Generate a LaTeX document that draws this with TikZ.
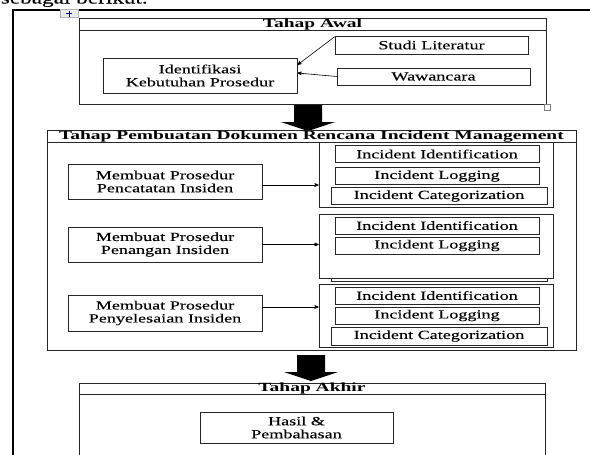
\documentclass[tikz,border=0pt]{standalone}
\usepackage{fontspec}
\setmainfont{Liberation Serif}[FakeStretch=1.45,FakeBold=0.1]
\newfontfamily\titlefont{Liberation Serif}[FakeStretch=1.56]
\usetikzlibrary{arrows}

\begin{document}
\begin{tikzpicture}[>=stealth',x=1pt,y=-1pt,semithick]
  \tikzstyle{every node}=[inner sep=0pt,align=center,font=\fontsize{12.5}{13}\selectfont]
  \tikzstyle{box}=[draw=black!85,minimum height=17pt]
  \tikzstyle{proc}=[box,minimum width=194pt,minimum height=35pt]
  \tikzstyle{item}=[box,minimum width=204pt]
  \tikzstyle{cat}=[box,minimum width=216pt]
  \tikzstyle{group}=[draw=black!85,fill=white,minimum width=234pt]
  \tikzstyle{frame}=[draw=black!85]
  \tikzstyle{title}=[font=\titlefont\bfseries\fontsize{12.5}{13}\selectfont]

  \useasboundingbox (0,0) rectangle (590,455);

  % page text and table frame
  \node[font=\fontsize{16}{18}\selectfont,anchor=base east] (intro) at (148,3.5) {sebagai berikut.};
  \draw[line width=2pt] (13,470) -- (13,10) -- (600,10);
  \node[draw=black!30,fill=black!8,minimum width=18pt,minimum height=8pt] (handle) at (69,13.5) {};
  \draw[blue!70!black,thin] ([xshift=-3pt]handle.center) -- ([xshift=3pt]handle.center)
                            ([yshift=-3pt]handle.center) -- ([yshift=3pt]handle.center);

  % block arrows between the stages
  \foreach \p in {(308,105),(311,355)}
    \fill \p ++(-14,0) -- ++(28,0) -- ++(0,17) -- ++(13,0) -- ++(-27,9) -- ++(-27,-9) -- ++(13,0) -- cycle;

  % Tahap Awal
  \node[frame,minimum width=467pt,minimum height=86pt] (Awal) at (312.5,61) {};
  \draw[black!85] ([yshift=-13pt]Awal.north west) -- ([yshift=-13pt]Awal.north east);
  \node[title] (AwalT) at ([yshift=-6.5pt]Awal.north) {Tahap Awal};
  \node[draw=black!50,fill=white,minimum size=6pt] (grip) at (547.5,107.5) {};

  \node[proc]                   (Idf)   at (200,75.5)   {Identifikasi\\Kebutuhan Prosedur};
  \node[box,minimum width=193pt,minimum height=18pt] (Studi) at (431.5,45) {Studi Literatur};
  \node[box,minimum width=193pt] (Wawan) at (433.5,76.5) {Wawancara};

  \draw[->] ([yshift=-1pt]Studi.north west) -- ([yshift=10.5pt]Idf.east);
  \draw[->] (Wawan.west) -- ([yshift=2.5pt]Idf.east);

  % Tahap Pembuatan Dokumen
  \node[frame,minimum width=529pt,minimum height=220pt] (Buat) at (311.5,240) {};
  \draw[black!85] ([yshift=-13pt]Buat.north west) -- ([yshift=-13pt]Buat.north east);
  \node[title] (BuatT) at ([yshift=-6.5pt]Buat.north) {Tahap Pembuatan Dokumen Rencana Incident Management};

  \node[proc] (Catat)  at (165,181.5) {Membuat Prosedur\\Pencatatan Insiden};
  \node[proc] (Tangan) at (165,244.5) {Membuat Prosedur\\Penangan Insiden};
  \node[proc,minimum height=36pt] (Selesai) at (165,313) {Membuat Prosedur\\Penyelesaian Insiden};

  \node[group,minimum height=65pt] (G1) at (436,174.5) {};
  \node[item] (G1id)  at (437,154) {Incident Identification};
  \node[item] (G1log) at (437,176) {Incident Logging};
  \node[cat]  (G1cat) at (439,196) {Incident Categorization};

  \node[cat,minimum height=16pt] (G2cat) at (439,273) {};
  \node[group,minimum height=64pt] (G2) at (436,246) {};
  \node[item] (G2id)  at (437,225.5) {Incident Identification};
  \node[item] (G2log) at (437,245.5) {Incident Logging};

  \node[group,minimum height=63pt] (G3) at (436,315.5) {};
  \node[item] (G3id)  at (437,295.5) {Incident Identification};
  \node[item] (G3log) at (437,315.5) {Incident Logging};
  \node[cat,minimum height=18pt] (G3cat) at (439,336) {Incident Categorization};

  \draw[->] ([yshift=-3.5pt]Catat.east) -- ([yshift=-3.5pt]Catat.east -| G1.west);
  \draw[->] (Tangan.east) -- (Tangan.east -| G2.west);
  \draw[->] ([yshift=6pt]Selesai.east) -- ([yshift=6pt]Selesai.east -| G3.west);

  % Tahap Akhir
  \node[frame,minimum width=466pt,minimum height=97pt] (Akhir) at (312,431.5) {};
  \draw[black!85] ([yshift=-12pt]Akhir.north west) -- ([yshift=-12pt]Akhir.north east);
  \node[title] (AkhirT) at ([yshift=-6pt]Akhir.north) {Tahap Akhir};
  \node[proc,minimum width=193pt,minimum height=31pt] (Hasil) at (296.5,427.5) {Hasil \&\\Pembahasan};
\end{tikzpicture}
\end{document}
